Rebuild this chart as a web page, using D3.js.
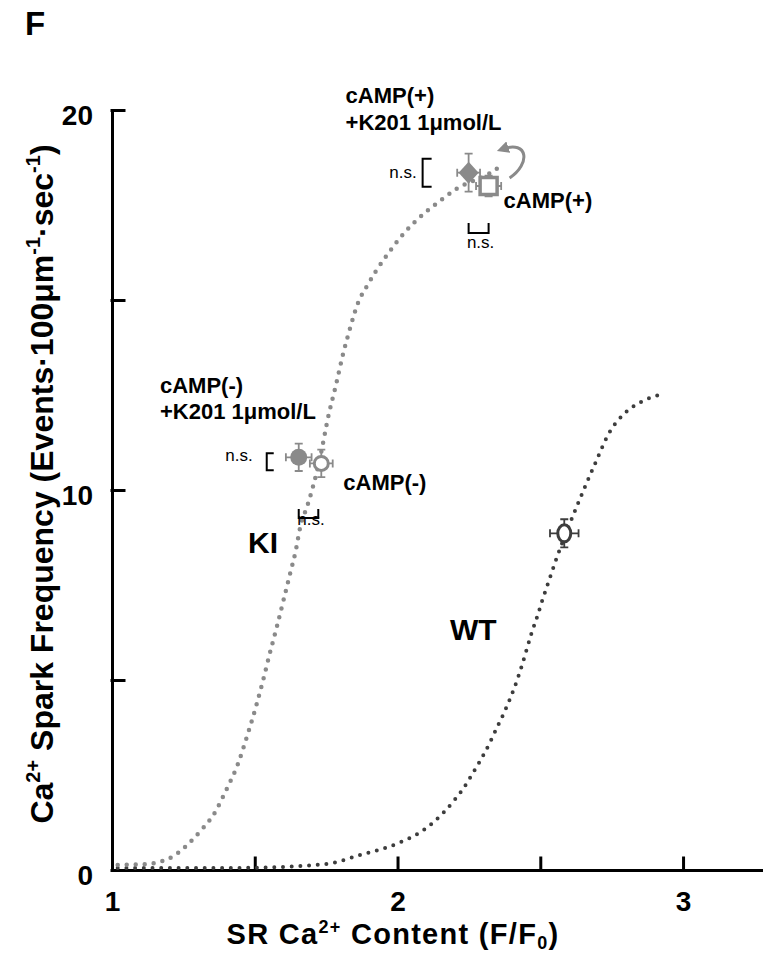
<!DOCTYPE html>
<html>
<head>
<meta charset="utf-8">
<style>
  body { margin: 0; background: #fff; }
  svg text { font-family: "Liberation Sans", Arial, Helvetica, sans-serif; }
</style>
</head>
<body>
  <div id="chart"></div>
  <script src="https://d3js.org/d3.v7.min.js"></script>
  <script>
    // fitted curves (SR content, spark frequency)
    var kiX = [1.02, 1.125, 1.16, 1.218, 1.269, 1.315, 1.356, 1.401, 1.442, 1.473, 1.502, 1.528, 1.552, 1.578, 1.602, 1.626, 1.642, 1.661, 1.684, 1.727, 1.760, 1.783, 1.807, 1.832, 1.861, 1.893, 1.925, 1.963, 2.005, 2.049, 2.098, 2.149, 2.205, 2.322, 2.354];
    var kiY = [0.13, 0.16, 0.2, 0.38, 0.70, 1.07, 1.46, 2.12, 2.81, 3.52, 4.24, 4.96, 5.68, 6.42, 7.14, 7.87, 8.35, 9.08, 9.58, 10.79, 12.02, 12.72, 13.51, 14.21, 14.91, 15.37, 15.77, 16.18, 16.6, 16.97, 17.31, 17.61, 17.92, 18.33, 18.49];

    var wtX = [1.02, 1.3, 1.5, 1.65, 1.776, 1.867, 1.949, 2.007, 2.063, 2.112, 2.156, 2.196, 2.231, 2.263, 2.293, 2.322, 2.347, 2.372, 2.397, 2.419, 2.436, 2.453, 2.471, 2.491, 2.508, 2.527, 2.555, 2.633, 2.691, 2.741, 2.797, 2.846, 2.93];
    var wtY = [0.05, 0.05, 0.06, 0.1, 0.19, 0.39, 0.56, 0.72, 0.92, 1.17, 1.47, 1.81, 2.15, 2.54, 2.92, 3.33, 3.73, 4.12, 4.56, 5.0, 5.39, 5.82, 6.27, 6.71, 7.12, 7.54, 8.16, 9.66, 10.68, 11.5, 12.03, 12.29, 12.53];

    // measured points (mean +/- SEM)
    var ptName = ["cAMP(+)+K201", "cAMP(+)", "cAMP(-)+K201", "cAMP(-)", "WT"];
    var ptX = [2.249, 2.319, 1.654, 1.733, 2.584];
    var ptY = [18.35, 18.0, 10.86, 10.70, 8.86];
    var ptXErr = [0.04, 0.044, 0.045, 0.04, 0.05];
    var ptYErr = [0.5, 0.27, 0.36, 0.36, 0.37];

    var xTicks = [1, 1.5, 2, 2.5, 3];
    var xTickLabels = ["1", "", "2", "", "3"];
    var yTicks = [0, 5, 10, 15, 20];
    var yTickLabels = ["0", "", "10", "", "20"];

    var width = 763,
      height = 956;

    var gray = "#8a8a8a",
      dark = "#3d3d3d";

    var x = d3.scaleLinear().domain([1, 3.28]).range([112, 763]);
    var y = d3.scaleLinear().domain([0, 20]).range([870, 110]);

    var svg = d3.select("#chart")
      .append("svg")
      .attr("width", width)
      .attr("height", height);

    //****************************
    //***** axes *****************
    //****************************
    var xAxis = svg.append("g")
      .attr("transform", "translate(0," + y(0) + ")")
      .call(d3.axisBottom(x)
        .tickValues(xTicks)
        .tickSizeInner(-12)
        .tickSizeOuter(0)
        .tickPadding(21)
        .tickFormat(function(d, i) { return xTickLabels[i]; }));

    var yAxis = svg.append("g")
      .attr("transform", "translate(" + x(1) + ",0)")
      .call(d3.axisLeft(y)
        .tickValues(yTicks)
        .tickSizeInner(-12)
        .tickSizeOuter(0)
        .tickPadding(19)
        .tickFormat(function(d, i) { return yTickLabels[i]; }));

    svg.selectAll(".domain, .tick line")
      .attr("stroke", "#000")
      .attr("stroke-width", 3)
      .attr("stroke-linecap", "square");

    svg.selectAll(".tick text")
      .attr("fill", "#000")
      .style("font-size", "28px")
      .style("font-weight", "bold");
    yAxis.selectAll(".tick text").attr("dy", "0.5em");

    // x axis title
    var xt = svg.append("text")
      .attr("x", 393)
      .attr("y", 944)
      .attr("text-anchor", "middle")
      .style("font-size", "29px")
      .style("letter-spacing", "1.3px")
      .style("font-weight", "bold");
    xt.append("tspan").text("SR Ca");
    xt.append("tspan").attr("dy", -11).style("font-size", "18px").text("2+");
    xt.append("tspan").attr("dy", 11).text(" Content (F/F");
    xt.append("tspan").attr("dy", 5).style("font-size", "18px").text("0");
    xt.append("tspan").attr("dy", -5).text(")");

    // y axis title
    var yt = svg.append("text")
      .attr("transform", "translate(53,484) rotate(-90)")
      .attr("text-anchor", "middle")
      .style("font-size", "32px")
      .style("font-weight", "bold");
    yt.append("tspan").text("Ca");
    yt.append("tspan").attr("dy", -13).style("font-size", "20px").text("2+");
    yt.append("tspan").attr("dy", 13).text(" Spark Frequency (Events\u00b7100\u03bcm");
    yt.append("tspan").attr("dy", -13).style("font-size", "20px").text("-1");
    yt.append("tspan").attr("dy", 13).text("\u00b7sec");
    yt.append("tspan").attr("dy", -13).style("font-size", "20px").text("-1");
    yt.append("tspan").attr("dy", 13).text(")");

    // panel letter
    svg.append("text")
      .attr("x", 25)
      .attr("y", 35)
      .style("font-size", "33px")
      .style("font-weight", "bold")
      .text("F");

    //****************************
    //***** fitted curves ********
    //****************************
    var line = d3.line()
      .x(function(d) { return x(d[0]); })
      .y(function(d) { return y(d[1]); })
      .curve(d3.curveMonotoneX);

    svg.append("path")
      .datum(d3.zip(wtX, wtY))
      .attr("d", line)
      .attr("fill", "none")
      .attr("stroke", dark)
      .attr("stroke-width", 4)
      .attr("stroke-linecap", "round")
      .attr("stroke-dasharray", "0 8.7");

    svg.append("path")
      .datum(d3.zip(kiX, kiY))
      .attr("d", line)
      .attr("fill", "none")
      .attr("stroke", gray)
      .attr("stroke-width", 4.5)
      .attr("stroke-linecap", "round")
      .attr("stroke-dasharray", "0 9");

    //****************************
    //***** points + error bars **
    //****************************
    var ptColor = [gray, gray, gray, gray, dark];
    var pts = ptName.map(function(n, i) {
      return { name: n, x: ptX[i], y: ptY[i], ex: ptXErr[i], ey: ptYErr[i], c: ptColor[i] };
    });

    var err = svg.append("g").selectAll("g")
      .data(pts)
      .enter().append("g")
      .attr("stroke", function(d) { return d.c; })
      .attr("stroke-width", 1.8)
      .attr("fill", "none");

    err.append("path")
      .attr("d", function(d) {
        var cx = x(d.x), cy = y(d.y), t = y(d.y + d.ey), b = y(d.y - d.ey);
        var l = x(d.x - d.ex), r = x(d.x + d.ex);
        return "M" + cx + "," + t + "V" + b +
          "M" + (cx - 4) + "," + t + "H" + (cx + 4) +
          "M" + (cx - 4) + "," + b + "H" + (cx + 4) +
          "M" + l + "," + cy + "H" + r +
          "M" + l + "," + (cy - 4) + "V" + (cy + 4) +
          "M" + r + "," + (cy - 4) + "V" + (cy + 4);
      });

    // cAMP(+)+K201 : filled diamond
    svg.append("path")
      .datum(pts[0])
      .attr("d", function(d) {
        var cx = x(d.x), cy = y(d.y);
        return "M" + cx + "," + (cy - 11) + "L" + (cx + 10) + "," + cy +
          "L" + cx + "," + (cy + 11) + "L" + (cx - 10) + "," + cy + "Z";
      })
      .attr("fill", gray);

    // cAMP(+) : open square
    svg.append("rect")
      .datum(pts[1])
      .attr("x", function(d) { return x(d.x) - 8.5; })
      .attr("y", function(d) { return y(d.y) - 8.5; })
      .attr("width", 17)
      .attr("height", 17)
      .attr("fill", "#fff")
      .attr("stroke", gray)
      .attr("stroke-width", 3.5);

    // cAMP(-)+K201 : filled circle
    svg.append("circle")
      .datum(pts[2])
      .attr("cx", function(d) { return x(d.x); })
      .attr("cy", function(d) { return y(d.y); })
      .attr("r", 8.5)
      .attr("fill", gray);

    // cAMP(-) : open circle
    svg.append("circle")
      .datum(pts[3])
      .attr("cx", function(d) { return x(d.x); })
      .attr("cy", function(d) { return y(d.y); })
      .attr("r", 7)
      .attr("fill", "#fff")
      .attr("stroke", gray)
      .attr("stroke-width", 3);

    // WT : open ellipse
    svg.append("ellipse")
      .datum(pts[4])
      .attr("cx", function(d) { return x(d.x); })
      .attr("cy", function(d) { return y(d.y); })
      .attr("rx", 6.5)
      .attr("ry", 8.5)
      .attr("fill", "#fff")
      .attr("stroke", dark)
      .attr("stroke-width", 3);

    //****************************
    //***** annotations **********
    //****************************
    var defs = svg.append("defs");
    defs.append("marker")
      .attr("id", "head")
      .attr("viewBox", "0 0 10 10")
      .attr("refX", 5)
      .attr("refY", 5)
      .attr("markerWidth", 4)
      .attr("markerHeight", 4)
      .attr("orient", "auto")
      .append("path")
      .attr("d", "M0,0L10,5L0,10Z")
      .attr("fill", gray);

    var sqx = x(ptX[1]), sqy = y(ptY[1]);
    svg.append("path")
      .attr("d", "M" + (sqx + 21) + "," + (sqy - 8) +
        "C" + (sqx + 42) + "," + (sqy - 22) + " " + (sqx + 40) + "," + (sqy - 46) + " " + (sqx + 14) + "," + (sqy - 37))
      .attr("fill", "none")
      .attr("stroke", gray)
      .attr("stroke-width", 3)
      .attr("marker-end", "url(#head)");

    function label(tx, ty, str, size, anchor, weight) {
      svg.append("text")
        .attr("x", tx)
        .attr("y", ty)
        .attr("text-anchor", anchor || "start")
        .style("font-size", size + "px")
        .style("font-weight", weight || "bold")
        .text(str);
    }

    function bracket(d) {
      svg.append("path")
        .attr("d", d)
        .attr("fill", "none")
        .attr("stroke", "#000")
        .attr("stroke-width", 2);
    }

    var dmx = x(ptX[0]), dmy = y(ptY[0]);
    var fcx = x(ptX[2]), fcy = y(ptY[2]);
    var ocx = x(ptX[3]);

    label(dmx - 123, 103, "cAMP(+)", 22);
    label(dmx - 123, 130, "+K201 1\u03bcmol/L", 22);
    label(sqx + 15, 208, "cAMP(+)", 22);
    label(160, 393, "cAMP(-)", 22);
    label(160, 419, "+K201 1\u03bcmol/L", 22);
    label(ocx + 22, 490, "cAMP(-)", 22);
    label(248, 553, "KI", 30);
    label(450, 640, "WT", 30);

    // n.s. brackets, top pair
    bracket("M" + (dmx - 37) + "," + (dmy - 14) + "H" + (dmx - 46) + "V" + (dmy + 14) + "H" + (dmx - 37));
    label(dmx - 52, dmy + 5, "n.s.", 17, "end", "normal");
    bracket("M" + dmx + ",223V233H" + sqx + "V223");
    label((dmx + sqx) / 2 + 2, 248, "n.s.", 17, "middle", "normal");

    // n.s. brackets, lower pair
    bracket("M" + (fcx - 25) + "," + (fcy - 4) + "H" + (fcx - 32) + "V" + (fcy + 13) + "H" + (fcx - 25));
    label(fcx - 46, fcy + 4, "n.s.", 17, "end", "normal");
    bracket("M" + fcx + ",509V518H" + (ocx - 3) + "V509");
    label((fcx + ocx) / 2 + 1, 525, "n.s.", 17, "middle", "normal");
  </script>
</body>
</html>
